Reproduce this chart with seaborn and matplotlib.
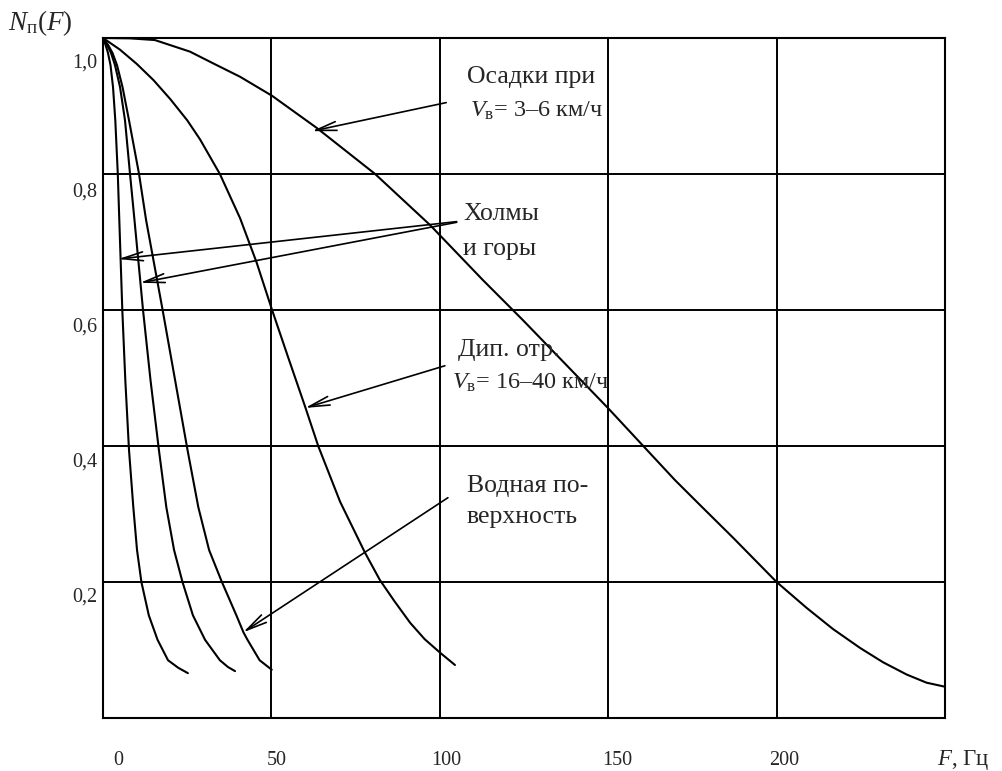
import matplotlib
matplotlib.use("Agg")
import matplotlib.pyplot as plt
import pandas as pd
import seaborn as sns

# ---------------- data ----------------
hills1_f = [0, 0.74, 1.48, 2.23, 2.97, 3.65, 4.39, 4.84, 5.73, 6.62, 7.72, 9.0, 10.1, 11.4, 13.6, 16.2, 19.3, 22.3, 25.2]
hills1_n = [1.0, 0.990, 0.978, 0.960, 0.928, 0.879, 0.800, 0.732, 0.600, 0.497, 0.394, 0.310, 0.247, 0.200, 0.151, 0.115, 0.085, 0.074, 0.066]

hills2_f = [0, 1.19, 2.38, 3.56, 5.05, 6.53, 8.02, 9.35, 11.88, 14.1, 16.6, 18.8, 21.1, 23.6, 26.7, 30.3, 34.7, 37.1, 39.2]
hills2_n = [1.0, 0.990, 0.978, 0.960, 0.928, 0.879, 0.800, 0.732, 0.600, 0.497, 0.394, 0.310, 0.247, 0.200, 0.151, 0.115, 0.085, 0.075, 0.069]

water_f = [0, 1.48, 2.82, 4.16, 5.79, 7.72, 10.7, 12.8, 17.7, 21.4, 25.1, 28.3, 31.5, 35.3, 39.6, 41.7, 42.9, 46.5, 50.1]
water_n = [1.0, 0.990, 0.978, 0.960, 0.928, 0.879, 0.800, 0.732, 0.600, 0.497, 0.394, 0.310, 0.247, 0.200, 0.151, 0.126, 0.115, 0.085, 0.071]

dipole_f = [0, 5, 10, 15, 20, 25, 28.8, 34.7, 40.7, 45.6, 50.2, 55, 60, 63.9, 70.4, 77.8, 82.2, 86.5, 91.2, 95.5, 100.1, 104.5]
dipole_n = [1.0, 0.983, 0.962, 0.938, 0.910, 0.879, 0.851, 0.800, 0.735, 0.670, 0.600, 0.530, 0.458, 0.400, 0.318, 0.243, 0.203, 0.172, 0.140, 0.116, 0.096, 0.078]

rain_f = [0, 8, 15.4, 25.8, 33, 40.7, 50.2, 63.4, 80.8, 97.1, 112.8, 124.7, 149.9, 160.6, 169.8, 177.3, 187.1, 200.0, 208.9, 216.7, 224.8, 231.6, 238.6, 244.5, 250.0]
rain_n = [1.0, 0.9995, 0.997, 0.980, 0.962, 0.943, 0.915, 0.868, 0.800, 0.725, 0.644, 0.585, 0.456, 0.399, 0.350, 0.313, 0.265, 0.200, 0.162, 0.131, 0.103, 0.082, 0.064, 0.052, 0.046]

x_ticks = [0, 50, 100, 150, 200, 250]
x_tick_labels = ["0", "50", "100", "150", "200"]
y_ticks = [0.0, 0.2, 0.4, 0.6, 0.8, 1.0]
y_tick_labels = ["0,2", "0,4", "0,6", "0,8", "1,0"]

# ---------------- style ----------------
sns.set_style("white")
plt.rcParams["font.family"] = ["Liberation Serif", "DejaVu Serif"]
plt.rcParams["mathtext.fontset"] = "custom"
plt.rcParams["mathtext.rm"] = "Liberation Serif"
plt.rcParams["mathtext.it"] = "Liberation Serif:italic"

fig = plt.figure(figsize=(10.03, 7.71), dpi=100)
ax = fig.add_axes([0.1027, 0.0687, 0.8395, 0.882])

curves = {
    "hills1": (hills1_f, hills1_n),
    "hills2": (hills2_f, hills2_n),
    "water": (water_f, water_n),
    "dipole": (dipole_f, dipole_n),
    "rain": (rain_f, rain_n),
}
df = pd.concat(
    [pd.DataFrame({"F": f, "N": n, "curve": k}) for k, (f, n) in curves.items()],
    ignore_index=True,
)
sns.lineplot(data=df, x="F", y="N", hue="curve", units="curve", estimator=None,
             sort=False, palette={k: "black" for k in curves}, legend=False,
             linewidth=1.5, ax=ax)
for ln in ax.lines:
    ln.set_solid_joinstyle("round")

ax.set_xlim(0, 250)
ax.set_ylim(0, 1.0)
ax.set_xticks(x_ticks)
ax.set_yticks(y_ticks)
ax.tick_params(length=0, labelbottom=False, labelleft=False)
ax.grid(True, color="black", linewidth=1.4)
ax.set_axisbelow(True)
for s in ax.spines.values():
    s.set_color("black")
    s.set_linewidth(1.5)
ax.set_xlabel("")
ax.set_ylabel("")

# tick labels (placed individually, as in the reference)
x_lab_pos = [4.45, 51.7, 101.8, 152.6, 202.2]
for xp, lab in zip(x_lab_pos, x_tick_labels):
    ax.text(xp, -0.069, lab, ha="center", va="baseline", fontsize=14.5, clip_on=False)
y_lab_pos = [0.171, 0.370, 0.568, 0.767, 0.956]
for yp, lab in zip(y_lab_pos, y_tick_labels):
    ax.text(-1.8, yp, lab, ha="right", va="baseline", fontsize=14.5, clip_on=False)

fig.text(937 / 1003, 1 - 765 / 771, "$F$, Гц", ha="left", va="baseline", fontsize=16.5)
fig.text(8 / 1003, 1 - 30 / 771, r"$N_{\mathrm{п}}(F)$", ha="left", va="baseline", fontsize=19.5)

# annotations
tfs = 18.5
vfs = 17.5
arrow = dict(arrowstyle="->,head_length=1.5,head_width=0.32", color="black",
             lw=1.2, shrinkA=0, shrinkB=0)

ax.text(108.1, 0.934, "Осадки при", ha="left", va="baseline", fontsize=tfs)
ax.text(109.0, 0.884, r"$V_{\mathrm{в}}$= 3–6 км/ч", ha="left", va="baseline", fontsize=vfs)
ax.annotate("", xy=(62.0, 0.863), xytext=(101.9, 0.905), arrowprops=arrow)

ax.text(106.9, 0.732, "Холмы", ha="left", va="baseline", fontsize=tfs)
ax.text(106.9, 0.681, "и горы", ha="left", va="baseline", fontsize=tfs)
ax.annotate("", xy=(4.54, 0.675), xytext=(105.0, 0.730), arrowprops=arrow)
ax.annotate("", xy=(11.0, 0.640), xytext=(105.0, 0.729), arrowprops=arrow)

ax.text(105.4, 0.532, "Дип. отр.", ha="left", va="baseline", fontsize=tfs)
ax.text(103.6, 0.485, r"$V_{\mathrm{в}}$= 16–40 км/ч", ha="left", va="baseline", fontsize=vfs)
ax.annotate("", xy=(60.0, 0.456), xytext=(101.5, 0.518), arrowprops=arrow)

ax.text(108.1, 0.332, "Водная по-", ha="left", va="baseline", fontsize=tfs)
ax.text(107.8, 0.287, "верхность", ha="left", va="baseline", fontsize=tfs)
ax.annotate("", xy=(41.6, 0.126), xytext=(102.4, 0.324), arrowprops=arrow)

fig.savefig("out.png", dpi=100, facecolor="white")
